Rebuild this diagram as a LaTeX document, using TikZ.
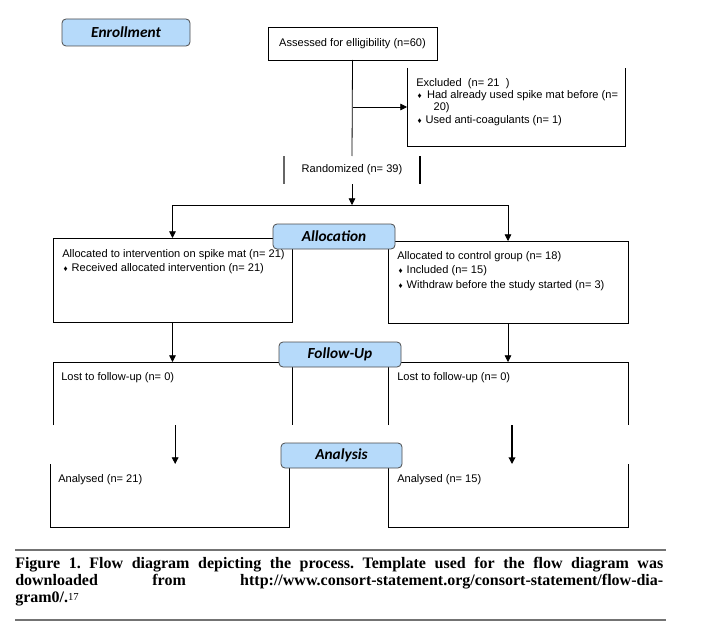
\documentclass[tikz,border=0pt]{standalone}
\usepackage{fontspec}
\setmainfont{Liberation Sans}
\newfontfamily\lblfont{Carlito}
\newfontfamily\capfont{Liberation Serif}
\usetikzlibrary{arrows.meta,fit}
\definecolor{lblue}{RGB}{182,218,250}
\newcommand\dia{{\fontsize{6}{6}\selectfont ♦}}
\tikzset{
  box/.style={inner sep=0pt, outer sep=0pt},
  edge/.style={draw=black, line width=0.6pt},
  arr/.style={edge, -{Triangle[length=5pt,width=5pt]}},
  lbl/.style={draw=black!70, fill=lblue, rounded corners=3pt, inner sep=0pt, line width=0.6pt,
    font=\lblfont\bfseries\itshape\fontsize{11.5}{12}\selectfont},
  txt/.style={anchor=north west, inner sep=0pt, align=left, font=\fontsize{8.3}{10.5}\selectfont},
}
\begin{document}
\begin{tikzpicture}[x=0.75pt,y=-0.75pt]
\useasboundingbox (0,0) rectangle (703,642);
% boxes
\node[box, draw=black, line width=0.6pt, minimum width=126.75pt, minimum height=24.75pt, font=\fontsize{8.3}{9}\selectfont] (ass) at (352.5,43.5) {Assessed for elligibility (n=60)};
\node[box, fit={(407,68) (625,146)}] (exc) {};
\draw[edge] (exc.north west) -- (exc.south west) -- (exc.south east) -- (exc.north east);
\node[txt, font=\fontsize{8.3}{9.2}\selectfont] (exct) at (416,78) {Excluded\ \ (n= 21\ \ )\\
\hspace*{1pt}\dia\hspace{4pt}Had already used spike mat before (n=\\
\hspace*{13pt}20)\\
\hspace*{1pt}\dia\hspace{3pt}Used anti-coagulants (n= 1)};
\node[box, minimum width=102pt, minimum height=21pt, font=\fontsize{8.3}{9}\selectfont] (rand) at (352,170) {Randomized (n= 39)};
\draw[black!60, line width=0.8pt] (rand.north west) -- (rand.south west);
\draw[black, line width=1.2pt] (rand.north east) -- (rand.south east);
\coordinate (split) at (352,205);

\node[box, draw=black, line width=0.6pt, fit={(53,238) (292,322)}] (la) {};
\node[box, draw=black, line width=0.6pt, fit={(388,241) (628,323)}] (ra) {};
\node[txt] (lat) at (62,249) {Allocated to intervention on spike mat (n= 21)\\
\hspace*{1pt}\dia\hspace{3pt}Received allocated intervention (n= 21)};
\node[txt, font=\fontsize{8.3}{10.9}\selectfont] (rat) at (397,251) {Allocated to control group (n= 18)\\
\hspace*{1pt}\dia\hspace{3pt}Included (n= 15)\\
\hspace*{1pt}\dia\hspace{3pt}Withdraw before the study started (n= 3)};

\node[box, fit={(53,362) (292,425)}] (lf) {};
\draw[edge] (lf.south west) -- (lf.north west) -- (lf.north east) -- (lf.south east);
\node[box, fit={(388,362) (628,425)}] (rf) {};
\draw[edge] (rf.south west) -- (rf.north west) -- (rf.north east) -- (rf.south east);
\node[txt] (lft) at (61,372) {Lost to follow-up (n= 0)};
\node[txt] (rft) at (397,372) {Lost to follow-up (n= 0)};

\node[box, fit={(50,464) (289,527)}] (lan) {};
\draw[edge] (lan.north west) -- (lan.south west) -- (lan.south east) -- (lan.north east);
\node[box, fit={(388,464) (628,527)}] (ran) {};
\draw[edge] (ran.north west) -- (ran.south west) -- (ran.south east) -- (ran.north east);
\node[txt] (lant) at (58,474) {Analysed (n= 21)};
\node[txt] (rant) at (397,474) {Analysed (n= 15)};

% connectors
\draw[edge] (ass.south) -- (rand.north);
\draw[arr] (ass.south |- exc.west) -- (exc.west);
\draw[arr] (rand.south) -- (split);
\draw[arr] (split) -| (la.north);
\draw[arr] (split) -| (ra.north);
\draw[arr] (la.south) -- (lf.north);
\draw[arr] (ra.south) -- (rf.north);
\draw[arr] ([xshift=2pt]lf.south) -- ([xshift=2pt]lf.south |- lan.north);
\draw[arr, line width=1pt] ([xshift=3pt]rf.south) -- ([xshift=3pt]rf.south |- ran.north);

% stage labels
\node[lbl, minimum width=96pt, minimum height=20.25pt] (enr) at (126,32.5) {Enrollment};
\node[lbl, minimum width=91.5pt, minimum height=18.75pt] (alloc) at (334,236.5) {Allocation};
\node[lbl, minimum width=91.5pt, minimum height=18.75pt] (fol) at (340,354.5) {Follow-Up};
\node[lbl, minimum width=90.75pt, minimum height=18.75pt] (ana) at (341.5,455.5) {Analysis};

% caption
\draw[black!55, line width=1pt] (15,550) -- (666,550);
\draw[black!55, line width=1pt] (15,620) -- (666,620);
\node[anchor=north west, inner sep=0pt, align=left, font=\capfont\bfseries\fontsize{12}{12.6}\selectfont\frenchspacing] (cap) at (15,557)
{\makebox[486pt][s]{Figure 1. Flow diagram depicting the process. Template used for the flow diagram was}\\
\makebox[486pt][s]{downloaded from http://www.consort-statement.org/consort-statement/flow-dia-}\\
gram0/.{\mdseries\fontsize{8}{8}\selectfont\raisebox{1.5pt}{17}}};
\end{tikzpicture}
\end{document}
